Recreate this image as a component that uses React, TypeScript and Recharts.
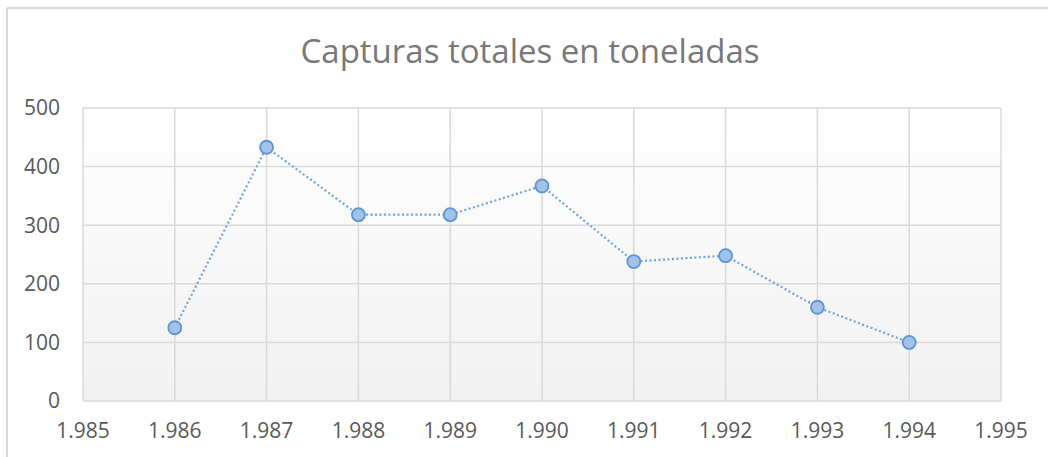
import React from "react";
import { LineChart, Line, XAxis, YAxis, CartesianGrid } from "recharts";

const years = [1986, 1987, 1988, 1989, 1990, 1991, 1992, 1993, 1994];
const capturas = [125, 433, 318, 318, 367, 238, 248, 160, 100];
const xTicks = [1985, 1986, 1987, 1988, 1989, 1990, 1991, 1992, 1993, 1994, 1995];
const yTicks = [0, 100, 200, 300, 400, 500];
const title = "Capturas totales en toneladas";

const data = years.map((y, i) => ({ year: y, value: capturas[i] }));

const fmtYear = (v: number) => `${Math.floor(v / 1000)}.${String(v % 1000).padStart(3, "0")}`;

const FONT = "'Open Sans', 'DejaVu Sans', sans-serif";

export default function App() {
  return (
    <div
      style={{
        position: "fixed",
        left: 0,
        top: 0,
        width: 1048,
        height: 457,
        overflow: "hidden",
        background: "#ffffff",
        fontFamily: FONT,
      }}
    >
      <div style={{ position: "absolute", left: 0, top: 0 }}>
        <LineChart
          width={1048}
          height={457}
          data={data}
          margin={{ top: 108, right: 47, bottom: 0, left: 0 }}
        >
          <defs>
            <linearGradient id="plotBg" x1="0" y1="0" x2="0" y2="1">
              <stop offset="0%" stopColor="#ffffff" />
              <stop offset="100%" stopColor="#f1f1f1" />
            </linearGradient>
          </defs>
          <CartesianGrid
            fill="url(#plotBg)"
            stroke="#d9d9d9"
            strokeWidth={1.5}
            horizontalValues={yTicks}
            verticalValues={xTicks}
          />
          <XAxis
            dataKey="year"
            type="number"
            domain={[1985, 1995]}
            ticks={xTicks}
            tickFormatter={fmtYear}
            axisLine={false}
            tickLine={false}
            tickSize={0}
            tickMargin={22}
            height={56}
            interval={0}
            tick={{ fill: "#595959", fontSize: 21, fontFamily: FONT }}
          />
          <YAxis
            type="number"
            domain={[0, 500]}
            ticks={yTicks}
            axisLine={false}
            tickLine={false}
            tickSize={0}
            tickMargin={23}
            width={83}
            interval={0}
            tick={{ fill: "#595959", fontSize: 21, fontFamily: FONT }}
          />
          <Line
            type="linear"
            dataKey="value"
            stroke="#6fa3dc"
            strokeWidth={2.2}
            strokeDasharray="2 2.5"
            isAnimationActive={false}
            dot={{ r: 6.5, fill: "#a4c2e8", stroke: "#5b95d3", strokeWidth: 1.8, strokeDasharray: "0" }}
            activeDot={false}
          />
        </LineChart>
      </div>
      <svg
        width={1048}
        height={457}
        style={{ position: "absolute", left: 0, top: 0, pointerEvents: "none" }}
      >
        <line x1={7} y1={8} x2={1048} y2={8} stroke="#d9d9d9" strokeWidth={2} />
        <line x1={7} y1={8} x2={7} y2={457} stroke="#d9d9d9" strokeWidth={2} />
        <text
          x={530}
          y={63}
          textAnchor="middle"
          fontFamily={FONT}
          fontSize={33}
          fill="#787878"
        >
          {title}
        </text>
      </svg>
    </div>
  );
}
